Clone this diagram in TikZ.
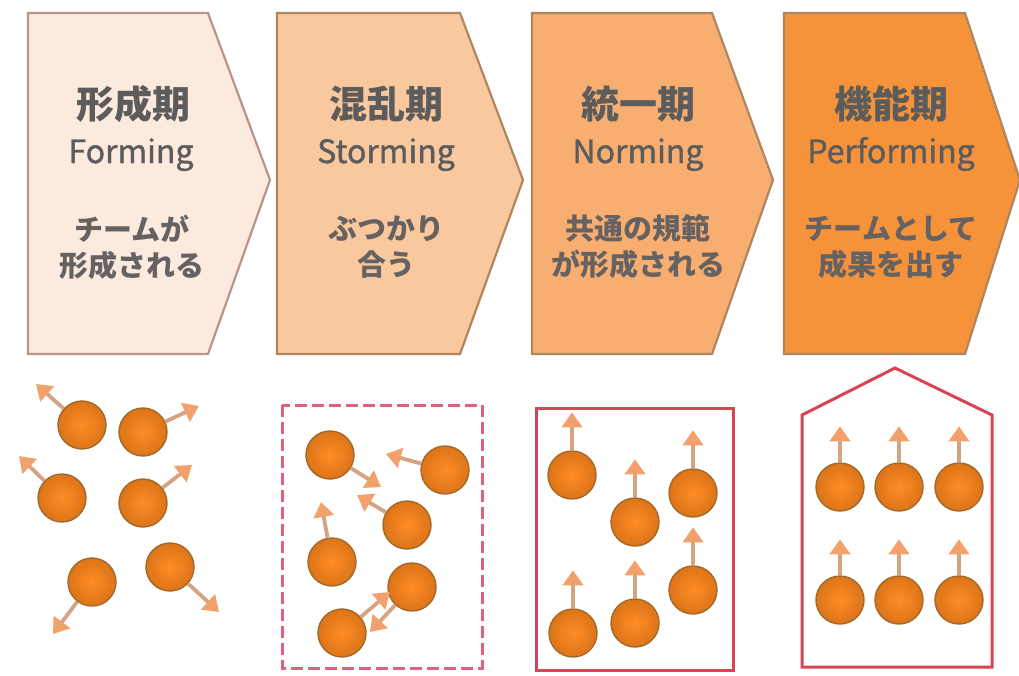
\documentclass[tikz,border=0pt]{standalone}
\usepackage{fontspec}
\usetikzlibrary{arrows.meta}
\newfontfamily\jp{Noto Sans CJK JP}
\newfontfamily\jpmed[FakeBold=1.2]{Noto Sans CJK JP}

\definecolor{fillA}{HTML}{FCEADF}
\definecolor{fillB}{HTML}{FAC89E}
\definecolor{fillC}{HTML}{F8AE70}
\definecolor{fillD}{HTML}{F5923A}
\definecolor{edgeA}{HTML}{B8948A}
\definecolor{edgeB}{HTML}{B08660}
\definecolor{txt}{HTML}{5C5C5C}
\definecolor{subtxt}{HTML}{666262}
\definecolor{ballIn}{HTML}{FF8C26}
\definecolor{ballOut}{HTML}{DC7418}
\definecolor{ballRim}{HTML}{A26A2A}
\definecolor{shaft}{HTML}{D4A482}
\definecolor{head}{HTML}{F2A06C}
\definecolor{frame}{HTML}{D84454}
\definecolor{dashframe}{HTML}{E2607A}

\tikzset{
  chevron/.style={draw=#1, line width=2.2pt, line join=miter},
  title/.style={font=\jp\bfseries\fontsize{38}{40}\selectfont, text=txt, inner sep=0},
  eng/.style={font=\jpmed\fontsize{32}{34}\selectfont, text=txt, inner sep=0},
  sub/.style={font=\jp\bfseries\fontsize{29}{36}\selectfont, text=subtxt, inner sep=0, align=center},
  ball/.style={circle, minimum size=48pt, inner sep=0, draw=ballRim, line width=1.4pt,
               inner color=ballIn, outer color=ballOut},
  pa/.style={draw=shaft, line width=3.8pt,
             -{Triangle[width=20pt,length=15pt,fill=head,color=head]}},
  solidframe/.style={draw=frame, line width=3pt, line join=miter},
  dashedframe/.style={draw=dashframe, line width=3pt, dash pattern=on 12pt off 5pt}
}

\begin{document}
\begin{tikzpicture}[x=1pt,y=-1pt]
\useasboundingbox[fill=white] (0,0) rectangle (1019,675);

% ---- stage chevrons ----
\draw[chevron=edgeA, fill=fillA] (28,13) -- (208,13) -- (270,180) -- (208,354) -- (28,354) -- cycle;
\draw[chevron=edgeB, fill=fillB] (277,13) -- (460,13) -- (523,180) -- (460,354) -- (277,354) -- cycle;
\draw[chevron=edgeB, fill=fillC] (532,13) -- (712,13) -- (773,180) -- (712,354) -- (532,354) -- cycle;
\draw[chevron=edgeB, fill=fillD] (784,13) -- (965,13) -- (1020,180) -- (965,354) -- (784,354) -- cycle;

% ---- stage texts ----
\node[title] (t1) at (133,104) {形成期};
\node[eng, anchor=base] (e1) at (131,163) {Forming};
\node[sub] (s1) at (132,247) {チームが\\形成される};

\node[title] (t2) at (386,104) {混乱期};
\node[eng, anchor=base] (e2) at (386,163) {Storming};
\node[sub] (s2) at (386,247) {ぶつかり\\合う};

\node[title] (t3) at (638,104) {統一期};
\node[eng, anchor=base] (e3) at (638,163) {Norming};
\node[sub] (s3) at (638,247) {共通の規範\\が形成される};

\node[title] (t4) at (891,104) {機能期};
\node[eng, anchor=base] (e4) at (891,163) {Performing};
\node[sub] (s4) at (891,247) {チームとして\\成果を出す};

% ---- forming: members scatter ----
\node[ball] (fa) at (82,425) {};
\node[ball] (fb) at (143,432) {};
\node[ball] (fc) at (62,498) {};
\node[ball] (fd) at (143,503) {};
\node[ball] (fe) at (92,582) {};
\node[ball] (ff) at (170,567) {};
\coordinate (fa1) at (36,384);
\coordinate (fb1) at (199,406);
\coordinate (fc1) at (19,456);
\coordinate (fd1) at (192,465);
\coordinate (fe1) at (53,634);
\coordinate (ff1) at (219,612);
\draw[pa] (fa) -- (fa1);
\draw[pa] (fb) -- (fb1);
\draw[pa] (fc) -- (fc1);
\draw[pa] (fd) -- (fd1);
\draw[pa] (fe) -- (fe1);
\draw[pa] (ff) -- (ff1);

% ---- storming: members collide ----
\draw[dashedframe] (282,405) rectangle (482,668);
\node[ball] (sa) at (330,455) {};
\node[ball] (sb) at (445,470) {};
\node[ball] (sc) at (407,525) {};
\node[ball] (sd) at (332,562) {};
\node[ball] (se) at (412,587) {};
\node[ball] (sf) at (342,633) {};
\coordinate (sa1) at (381,487);
\coordinate (sb1) at (386,454);
\coordinate (sc1) at (357,495);
\coordinate (sd1) at (321,502);
\coordinate (se1) at (370,632);
\coordinate (sf1) at (390,592);
\draw[pa] (sa) -- (sa1);
\draw[pa] (sb) -- (sb1);
\draw[pa] (sc) -- (sc1);
\draw[pa] (sd) -- (sd1);
\draw[pa] (se) -- (se1);
\draw[pa] (sf) -- (sf1);

% ---- norming: members align ----
\draw[solidframe] (536,408) rectangle (733,670);
\node[ball] (na) at (572,475) {};
\node[ball] (nb) at (635,522) {};
\node[ball] (nc) at (693,493) {};
\node[ball] (nd) at (573,633) {};
\node[ball] (ne) at (635,623) {};
\node[ball] (nf) at (693,590) {};
\foreach \b in {na,nb,nc,nd,ne,nf}
  \draw[pa] (\b.north) -- ++(0,-38);

% ---- performing: members in formation ----
\draw[solidframe] (802,667) -- (802,415) -- (895,368) -- (992,415) -- (992,667) -- cycle;
\node[ball] (pa1) at (840,487) {};
\node[ball] (pa2) at (899,487) {};
\node[ball] (pa3) at (959,487) {};
\node[ball] (pb1) at (840,600) {};
\node[ball] (pb2) at (899,600) {};
\node[ball] (pb3) at (959,600) {};
\foreach \b in {pa1,pa2,pa3,pb1,pb2,pb3}
  \draw[pa] (\b.north) -- ++(0,-36);
\end{tikzpicture}
\end{document}
